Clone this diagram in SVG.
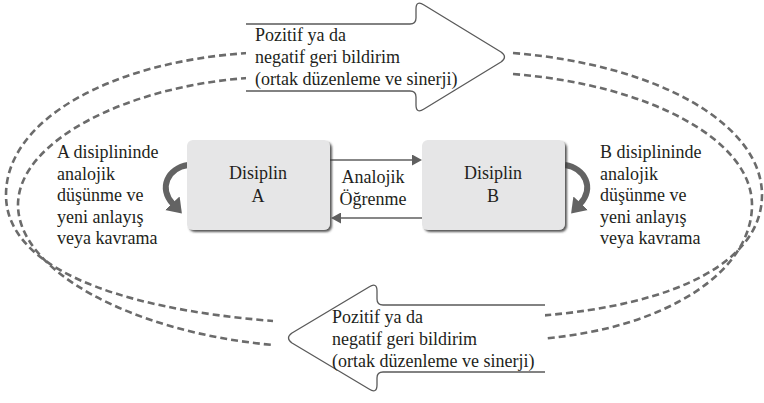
<svg xmlns="http://www.w3.org/2000/svg" width="764" height="403" viewBox="0 0 764 403" font-family="Liberation Serif, DejaVu Serif, serif" font-size="18">
  <defs>
    <style>
      text { fill: #231f20; }
      .mid { text-anchor: middle; }
      .dash { fill: none; stroke: #6b6b6b; stroke-width: 2.6; stroke-dasharray: 7 4; }
      .big { fill: #ffffff; stroke: #5a5a5a; stroke-width: 1.3; stroke-linejoin: round; }
      .box { fill: #e6e6e7; filter: url(#shadow); }
      .link { fill: none; stroke: #5f5f5f; stroke-width: 1.5; }
      .loop { fill: none; stroke: #636363; stroke-width: 6; }
    </style>
    <filter id="shadow" x="-10%" y="-10%" width="125%" height="130%">
      <feDropShadow dx="2" dy="2" stdDeviation="1.2" flood-color="#3a3a3a" flood-opacity="0.85"/>
    </filter>
    <marker id="head" viewBox="0 0 10 11" refX="0" refY="5.5" markerWidth="10" markerHeight="11" markerUnits="userSpaceOnUse" orient="auto">
      <path d="M0,0 L10,5.5 L0,11 Z" fill="#5f5f5f"/>
    </marker>
    <marker id="bighead" viewBox="0 0 14 20" refX="1" refY="10" markerWidth="14" markerHeight="20" markerUnits="userSpaceOnUse" orient="auto">
      <path d="M0,0 L14,10 L0,20 Z" fill="#636363"/>
    </marker>
  </defs>

  <!-- dashed feedback loops -->
  <g id="loops">
    <path class="dash" d="M248,53 C 110,62 6,120 6,195 C 6,265 110,308 273,321"/>
    <path class="dash" d="M248,78 C 130,86 18,140 18,205 C 18,270 130,332 273,345"/>
    <path class="dash" d="M513,53 C 660,65 762,125 762,195 C 762,260 680,305 537,316"/>
    <path class="dash" d="M513,74 C 650,85 752,140 752,205 C 752,270 670,328 540,339"/>
  </g>

  <!-- feedback arrows -->
  <g id="feedback-top">
    <path class="big" d="M246,24 H410 Q416,24 416,18 V9 Q416,0 424,5 L501,52 Q508,57 501,62 L424,109 Q416,114 416,105 V97 Q416,91 410,91 H246"/>
    <text x="255" y="41">Pozitif ya da</text>
    <text x="255" y="63">negatif geri bildirim</text>
    <text x="255" y="85">(ortak düzenleme ve sinerji)</text>
  </g>
  <g id="feedback-bottom">
    <path class="big" d="M545,305 H383 Q377,305 377,299 V291 Q377,282 369,287 L292,333 Q285,338 292,343 L369,389 Q377,394 377,385 V378 Q377,372 383,372 H545"/>
    <text x="332" y="323">Pozitif ya da</text>
    <text x="332" y="345">negatif geri bildirim</text>
    <text x="332" y="367">(ortak düzenleme ve sinerji)</text>
  </g>

  <!-- connectors -->
  <g id="connectors">
    <line class="link" x1="330" y1="160" x2="412" y2="160" marker-end="url(#head)"/>
    <line class="link" x1="422" y1="218" x2="341" y2="218" marker-end="url(#head)"/>
    <path class="loop" d="M188,165 C 168,168 158,188 173,204" marker-end="url(#bighead)"/>
    <path class="loop" d="M565,165 C 585,168 595,188 580,204" marker-end="url(#bighead)"/>
  </g>

  <!-- disciplines -->
  <g id="disiplin-a">
    <rect class="box" x="187" y="140" width="143" height="90" rx="6"/>
    <text class="mid" x="258" y="179">Disiplin</text>
    <text class="mid" x="258" y="202">A</text>
  </g>
  <g id="disiplin-b">
    <rect class="box" x="422" y="140" width="143" height="90" rx="6"/>
    <text class="mid" x="493" y="179">Disiplin</text>
    <text class="mid" x="493" y="202">B</text>
  </g>

  <g id="analojik-ogrenme">
    <text class="mid" x="373" y="183">Analojik</text>
    <text class="mid" x="373" y="205">Öğrenme</text>
  </g>

  <g id="note-a">
    <text x="57" y="158">A disiplininde</text>
    <text x="57" y="180">analojik</text>
    <text x="57" y="201">düşünme ve</text>
    <text x="57" y="223">yeni anlayış</text>
    <text x="57" y="244">veya kavrama</text>
  </g>
  <g id="note-b">
    <text x="600" y="158">B disiplininde</text>
    <text x="600" y="180">analojik</text>
    <text x="600" y="201">düşünme ve</text>
    <text x="600" y="223">yeni anlayış</text>
    <text x="600" y="244">veya kavrama</text>
  </g>
</svg>
